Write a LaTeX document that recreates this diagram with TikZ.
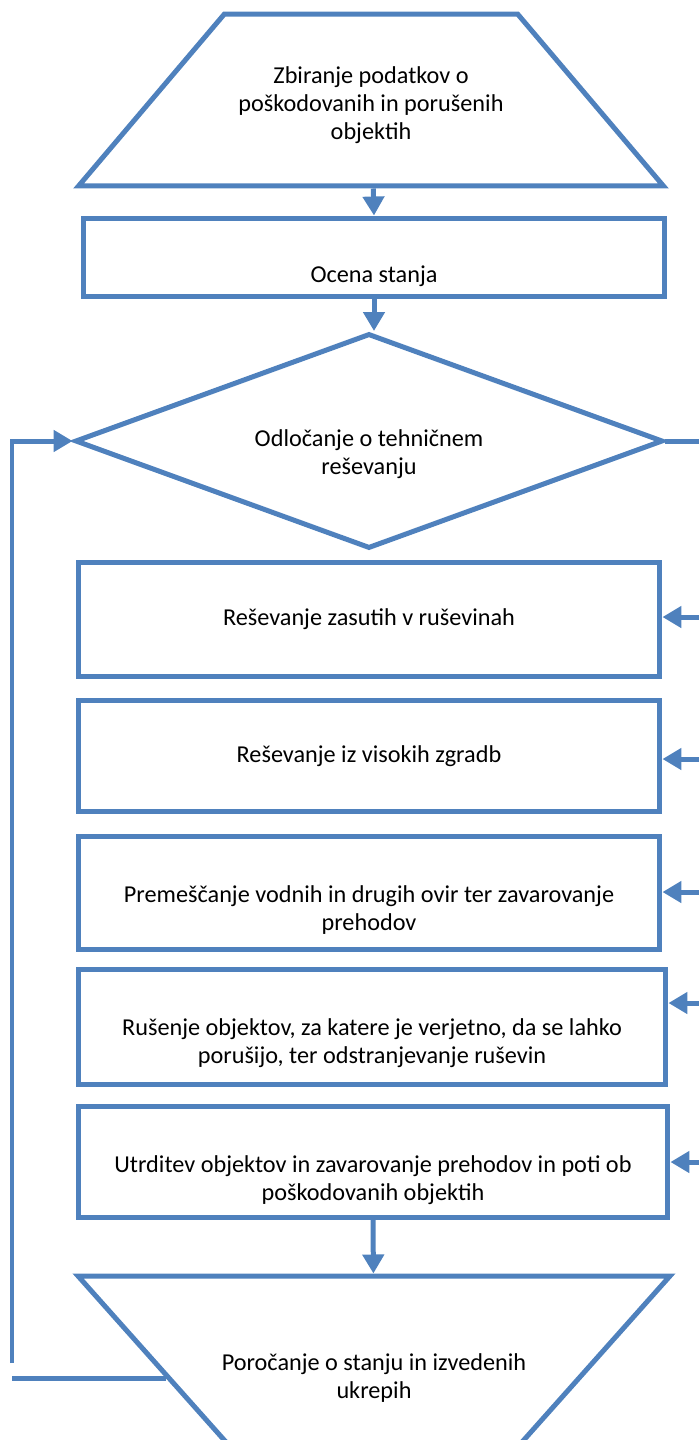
\documentclass[tikz,border=0pt]{standalone}
\usepackage{fontspec}
\setmainfont{Carlito}
\usetikzlibrary{shapes.geometric,arrows.meta}
\definecolor{modra}{RGB}{79,129,189}
\tikzset{
	lik/.style={draw=modra,line width=0.1cm,inner sep=0pt,align=center,
		font=\fontsize{13.8}{15.9}\selectfont},
	okvir/.style={lik,rectangle,minimum width=11.64cm},
	nizje/.style={text height=#1,text depth=0pt},
	trapez/.style={lik,trapezium,trapezium stretches body=true},
	puscica/.style={draw=modra,line width=0.1cm,-{Triangle[length=0.38cm,width=0.42cm]}},
	crta/.style={draw=modra,line width=0.1cm},
}
\begin{document}
\begin{tikzpicture}[x=0.02cm,y=-0.02cm]
	\useasboundingbox (0,0) rectangle (699,1440);
	\clip (0,0) rectangle (699,1440);

	% Liki od zgoraj navzdol...
		\node[trapez,trapezium left angle=49.7,trapezium right angle=49.7,
			text height=2.51cm,text depth=0.93cm,minimum width=11.7cm] (zbiranje) at (371,100)
			{Zbiranje podatkov o\\poškodovanih in porušenih\\objektih};
		\node[okvir,minimum height=1.58cm,nizje=1.0cm] (ocena) at (374,257.5) {Ocena stanja};
		\node[lik,diamond,aspect=3,minimum width=11.76cm,minimum height=4.3cm,nizje=1.34cm] (odlocanje) at (369,441)
			{Odločanje o tehničnem\\reševanju};
		\node[okvir,minimum height=2.3cm] (zasuti) at (369,619.5) {Reševanje zasutih v ruševinah};
		\node[okvir,minimum height=2.24cm] (zgradbe) at (369,756) {Reševanje iz visokih zgradb};
		\node[okvir,minimum height=2.26cm,nizje=1.52cm] (ovire) at (369,892.5)
			{Premeščanje vodnih in drugih ovir ter zavarovanje\\prehodov};
		\node[okvir,minimum width=11.76cm,minimum height=2.3cm,nizje=1.48cm] (rusenje) at (372,1026.5)
			{Rušenje objektov, za katere je verjetno, da se lahko\\porušijo, ter odstranjevanje ruševin};
		\node[okvir,minimum width=11.8cm,minimum height=2.22cm,nizje=1.56cm] (utrditev) at (373,1161.5)
			{Utrditev objektov in zavarovanje prehodov in poti ob\\poškodovanih objektih};
		\node[trapez,shape border rotate=180,trapezium left angle=48.3,trapezium right angle=48.3,inner xsep=-0.3cm,
			text height=2.45cm,text depth=1.07cm,minimum width=11.84cm] (porocanje) at (374,1364)
			{Poročanje o stanju in izvedenih\\ukrepih};

	% Puscice po sredini
		\draw[puscica] (zbiranje) -- (ocena.north);
		\draw[puscica] (ocena.south) -- (ocena.south |- odlocanje.north);
		\draw[puscica] (utrditev.south) -- (porocanje);

	% Desna stran (vhodi v okvirje)
		\coordinate (d1) at (699,617);
		\coordinate (d2) at (699,759);
		\coordinate (d3) at (699,892);
		\coordinate (d4) at (699,1003);
		\coordinate (d5) at (699,1162);
		\draw[crta] (odlocanje.east) -- (odlocanje.east -| d1);
		\draw[puscica] (d1) -- (d1 -| zasuti.east);
		\draw[puscica] (d2) -- (d2 -| zgradbe.east);
		\draw[puscica] (d3) -- (d3 -| ovire.east);
		\draw[puscica] (d4) -- (d4 -| rusenje.east);
		\draw[puscica] (d5) -- (d5 -| utrditev.east);

	% Leva zanka nazaj na odlocanje
		\coordinate (l1) at (12,1363);
		\coordinate (l2) at (12,1378);
		\draw[puscica] (l1) |- (odlocanje.west);
		\draw[crta] (porocanje.184.5) -- (porocanje.184.5 -| l2);
\end{tikzpicture}
\end{document}
